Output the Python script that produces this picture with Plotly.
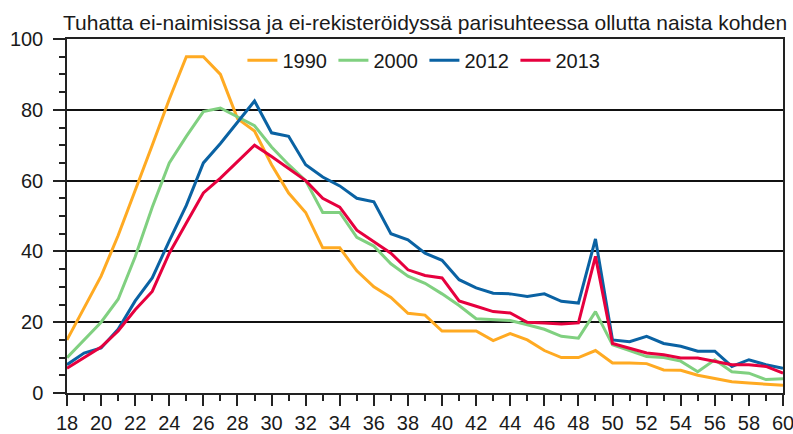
import plotly.graph_objects as go

ages = list(range(18, 61))

y1990 = [15, 24, 33, 44.5, 57, 70, 83, 95, 95, 90, 77.5, 74, 64.5, 56.5, 51, 41, 41, 34.5, 30, 27,
         22.5, 22, 17.5, 17.5, 17.5, 14.8, 16.8, 15, 12, 10, 10, 12, 8.5, 8.5, 8.3, 6.5, 6.4, 5, 4,
         3.2, 2.8, 2.4, 2.2]
y2000 = [10, 15, 20, 26.5, 38.5, 52.5, 65, 72.5, 79.5, 80.5, 78, 75.5, 69.5, 64.5, 60, 51, 51, 44,
         41.5, 36.5, 33, 31, 28, 24.7, 21, 20.8, 20.5, 19.3, 18, 16, 15.5, 23, 13.6, 12, 10.3, 10,
         9, 6, 9.4, 6, 5.6, 3.8, 4]
y2012 = [8, 11.3, 12.7, 18, 26, 32.5, 43, 53, 65, 70.5, 76.5, 82.5, 73.5, 72.5, 64.5, 61, 58.5, 55,
         54, 45, 43.3, 39.5, 37.5, 32, 29.7, 28.2, 28, 27.3, 28, 25.9, 25.4, 43.5, 15, 14.5, 16, 14,
         13.2, 11.8, 11.8, 7.5, 9.4, 8, 7]
y2013 = [7, 10, 13, 17.5, 23.5, 28.7, 39.5, 48, 56.5, 60.7, 65.4, 70, 66.8, 63.5, 60, 55, 52.5, 46,
         42.8, 39.5, 34.8, 33.2, 32.5, 26, 24.5, 23, 22.6, 20, 19.8, 19.5, 19.8, 38.6, 14, 12.7, 11.3,
         10.8, 9.9, 9.9, 9, 8, 8, 7.5, 5.6]

series_names = ["1990", "2000", "2012", "2013"]
series_values = [y1990, y2000, y2012, y2013]
series_colors = ["#FFAA22", "#80D080", "#0A62A3", "#E6003E"]

subtitle = "Tuhatta ei-naimisissa ja ei-rekisteröidyssä parisuhteessa ollutta naista kohden"

FONT = "Liberation Sans, Arial, sans-serif"
TXT = "#1a1a1a"

fig = go.Figure()
for name, vals, col in zip(series_names, series_values, series_colors):
    fig.add_trace(go.Scatter(x=ages, y=vals, mode="lines", name=name,
                             line=dict(color=col, width=3)))

fig.update_layout(
    width=793, height=434,
    margin=dict(l=67, r=10, t=39, b=41, autoexpand=False),
    paper_bgcolor="white", plot_bgcolor="white",
    font=dict(family=FONT, size=20, color=TXT),
    showlegend=True,
    legend=dict(orientation="h", x=0.245, y=0.94, xanchor="left", yanchor="middle",
                bgcolor="rgba(0,0,0,0)", font=dict(size=20, color=TXT),
                itemwidth=30, entrywidth=46, entrywidthmode="pixels",
                traceorder="normal"),
    annotations=[dict(text=subtitle, xref="paper", yref="paper", x=1.009, y=1.0,
                      xanchor="right", yanchor="bottom", showarrow=False,
                      font=dict(size=21, color=TXT, family=FONT), yshift=3)],
)
fig.update_xaxes(range=[18, 60], dtick=2, tick0=18, showgrid=False, automargin=False,
                 showline=True, linecolor="#222", linewidth=1.5, mirror=True,
                 ticks="outside", ticklen=11, tickwidth=1.5, tickcolor="#222",
                 minor=dict(dtick=1, ticks="outside", ticklen=6, tickwidth=1.5, tickcolor="#222"),
                 tickfont=dict(size=20, color=TXT), zeroline=False, ticklabeloverflow="allow")
fig.update_yaxes(range=[0, 100], dtick=20, showgrid=True, gridcolor="#111", gridwidth=1.5,
                 automargin=False,
                 showline=True, linecolor="#222", linewidth=1.5, mirror=True,
                 ticks="outside", ticklen=12, tickwidth=1.5, tickcolor="#222",
                 minor=dict(dtick=5, ticks="outside", ticklen=6, tickwidth=1.5, tickcolor="#222",
                            showgrid=False),
                 tickfont=dict(size=20, color=TXT), zeroline=False, ticklabelstandoff=6,
                 ticklabeloverflow="allow")

fig.write_html("out.html", config={"displayModeBar": False},
               post_script="document.body.style.margin='0px';")
